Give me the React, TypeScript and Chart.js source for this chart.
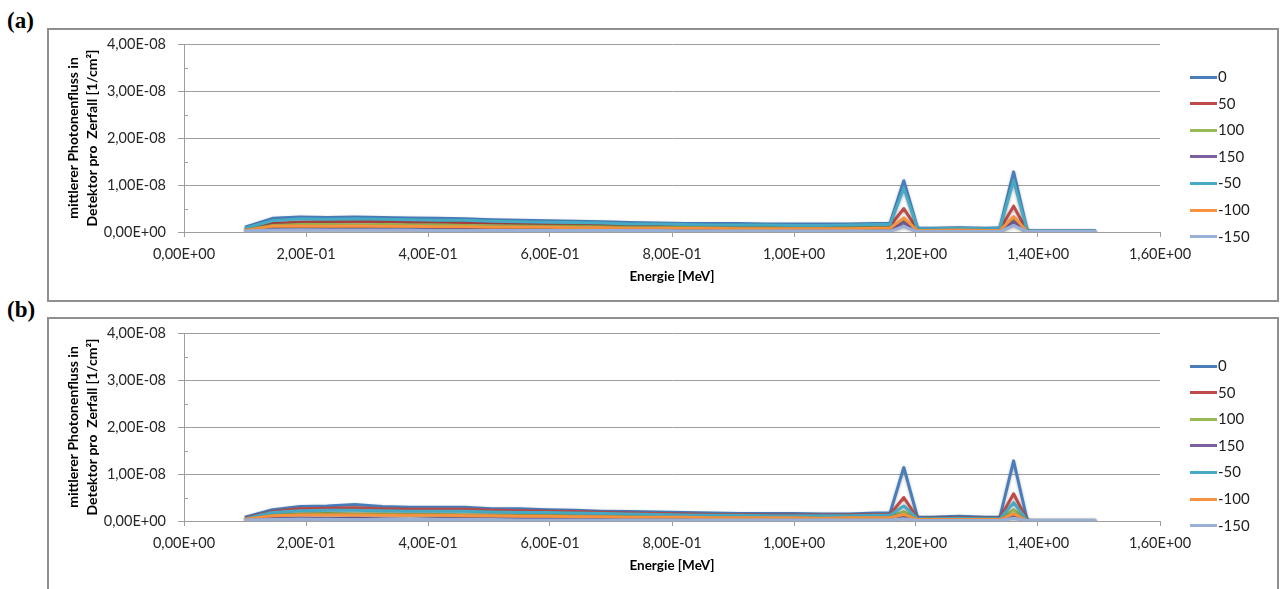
import React, { useEffect, useRef } from 'react';
import { Chart, registerables } from 'chart.js';

Chart.register(...registerables);

// ---------- data ----------
// Energy in MeV
const energy = [
  0.1, 0.145, 0.19, 0.235, 0.28, 0.325, 0.37, 0.415, 0.46, 0.505, 0.55, 0.595,
  0.64, 0.685, 0.73, 0.775, 0.82, 0.865, 0.91, 0.955, 1.0, 1.045, 1.09, 1.135,
  1.1575, 1.18, 1.2025, 1.225, 1.27, 1.315, 1.3375, 1.36, 1.3825, 1.405, 1.45, 1.495,
];

// values in units of 1E-09 (1/cm²)
const UNIT = 1e-9;

const seriesNames = ['0', '50', '100', '150', '-50', '-100', '-150'];
const seriesColors = ['#4A7EBB', '#BE4B48', '#98B954', '#7D60A0', '#46AAC5', '#F69240', '#98AFD6'];

// panel (a)
const a0 = [
  1.0, 2.9, 3.2, 3.1, 3.2, 3.1, 3.0, 2.9, 2.8, 2.6, 2.5, 2.4,
  2.3, 2.2, 2.0, 1.9, 1.8, 1.8, 1.8, 1.7, 1.7, 1.7, 1.7, 1.8,
  1.8, 10.9, 0.8, 0.8, 0.9, 0.8, 0.9, 12.8, 0.2, 0.2, 0.2, 0.2,
];
const a50 = [
  0.6, 1.8, 2.1, 2.2, 2.2, 2.3, 2.1, 2.1, 2.0, 1.9, 1.8, 1.7,
  1.6, 1.6, 1.4, 1.4, 1.3, 1.3, 1.2, 1.2, 1.2, 1.2, 1.2, 1.3,
  1.3, 5.0, 0.5, 0.5, 0.6, 0.5, 0.6, 5.5, 0.1, 0.1, 0.1, 0.1,
];
const a100 = [
  0.5, 1.4, 1.6, 1.6, 1.5, 1.6, 1.5, 1.5, 1.4, 1.3, 1.3, 1.2,
  1.2, 1.1, 1.0, 1.0, 1.0, 0.9, 0.9, 0.9, 0.9, 0.8, 0.9, 0.9,
  0.9, 2.6, 0.4, 0.4, 0.4, 0.4, 0.4, 2.9, 0.1, 0.1, 0.1, 0.1,
];
const a150 = [
  0.3, 0.8, 0.8, 0.7, 0.8, 0.7, 0.6, 0.7, 0.6, 0.6, 0.6, 0.5,
  0.5, 0.5, 0.5, 0.5, 0.4, 0.4, 0.4, 0.4, 0.4, 0.4, 0.4, 0.4,
  0.4, 2.0, 0.2, 0.2, 0.2, 0.2, 0.2, 2.2, 0.1, 0.1, 0.1, 0.1,
];
const aM50 = [
  0.8, 2.4, 2.8, 2.7, 2.8, 2.7, 2.6, 2.5, 2.5, 2.3, 2.2, 2.1,
  2.0, 1.9, 1.7, 1.7, 1.6, 1.5, 1.5, 1.5, 1.4, 1.4, 1.5, 1.6,
  1.6, 9.4, 0.7, 0.7, 0.8, 0.7, 0.8, 11.0, 0.2, 0.2, 0.2, 0.2,
];
const aM100 = [
  0.4, 1.2, 1.3, 1.2, 1.3, 1.2, 1.2, 1.1, 1.1, 1.0, 1.0, 1.0,
  0.9, 0.9, 0.8, 0.8, 0.8, 0.8, 0.7, 0.7, 0.7, 0.7, 0.7, 0.8,
  0.8, 3.0, 0.3, 0.3, 0.4, 0.3, 0.3, 3.3, 0.1, 0.1, 0.1, 0.1,
];
const aM150 = [
  0.2, 0.4, 0.5, 0.4, 0.4, 0.4, 0.4, 0.3, 0.3, 0.3, 0.3, 0.3,
  0.3, 0.3, 0.3, 0.3, 0.2, 0.2, 0.2, 0.2, 0.2, 0.2, 0.2, 0.2,
  0.2, 1.2, 0.1, 0.1, 0.1, 0.1, 0.1, 1.4, 0.1, 0.1, 0.1, 0.1,
];

// panel (b)
const b0 = [
  0.8, 2.4, 3.1, 3.2, 3.5, 3.1, 2.9, 2.9, 2.9, 2.6, 2.6, 2.4,
  2.3, 2.1, 2.0, 1.9, 1.8, 1.7, 1.6, 1.6, 1.6, 1.5, 1.5, 1.7,
  1.7, 11.4, 0.8, 0.8, 1.0, 0.8, 0.8, 12.8, 0.1, 0.1, 0.1, 0.1,
];
const b50 = [
  0.6, 2.0, 2.6, 2.7, 2.8, 2.6, 2.5, 2.5, 2.5, 2.3, 2.2, 2.1,
  2.0, 1.8, 1.7, 1.6, 1.5, 1.4, 1.4, 1.3, 1.3, 1.3, 1.3, 1.4,
  1.4, 5.0, 0.6, 0.6, 0.7, 0.6, 0.6, 5.8, 0.1, 0.1, 0.1, 0.1,
];
const b100 = [
  0.4, 1.3, 1.5, 1.6, 1.5, 1.5, 1.4, 1.4, 1.3, 1.3, 1.2, 1.2,
  1.1, 1.0, 1.0, 0.9, 0.9, 0.9, 0.8, 0.8, 0.8, 0.8, 0.8, 0.9,
  0.9, 2.0, 0.4, 0.4, 0.4, 0.4, 0.4, 2.4, 0.1, 0.1, 0.1, 0.1,
];
const b150 = [
  0.2, 0.5, 0.6, 0.5, 0.6, 0.4, 0.3, 0.5, 0.5, 0.4, 0.4, 0.4,
  0.4, 0.3, 0.3, 0.3, 0.3, 0.3, 0.3, 0.3, 0.3, 0.3, 0.3, 0.3,
  0.3, 0.8, 0.2, 0.2, 0.2, 0.2, 0.2, 1.0, 0.1, 0.1, 0.1, 0.1,
];
const bM50 = [
  0.5, 1.8, 2.2, 2.3, 2.3, 2.2, 2.1, 2.1, 2.1, 1.9, 1.8, 1.8,
  1.7, 1.6, 1.5, 1.4, 1.3, 1.2, 1.2, 1.1, 1.1, 1.1, 1.1, 1.2,
  1.2, 3.2, 0.5, 0.5, 0.6, 0.5, 0.5, 3.9, 0.1, 0.1, 0.1, 0.1,
];
const bM100 = [
  0.4, 1.1, 1.3, 1.3, 1.3, 1.2, 1.2, 1.2, 1.1, 1.1, 1.0, 1.0,
  0.9, 0.9, 0.8, 0.8, 0.8, 0.7, 0.7, 0.7, 0.7, 0.6, 0.7, 0.7,
  0.7, 1.4, 0.3, 0.3, 0.3, 0.3, 0.3, 1.5, 0.1, 0.1, 0.1, 0.1,
];
const bM150 = [
  0.2, 0.3, 0.4, 0.3, 0.3, 0.3, 0.3, 0.3, 0.3, 0.3, 0.2, 0.2,
  0.2, 0.2, 0.2, 0.2, 0.2, 0.2, 0.2, 0.2, 0.2, 0.2, 0.2, 0.2,
  0.2, 0.5, 0.1, 0.1, 0.1, 0.1, 0.1, 0.6, 0.1, 0.1, 0.1, 0.1,
];

const panelA = [a0, a50, a100, a150, aM50, aM100, aM150];
const panelB = [b0, b50, b100, b150, bM50, bM100, bM150];

const xTitle = 'Energie [MeV]';
const yTitle = ['mittlerer Photonenfluss in', 'Detektor pro  Zerfall [1/cm²]'];

// ---------- helpers ----------
function sci(v: number): string {
  if (Math.abs(v) < 1e-20) return '0,00E+00';
  const [m, e] = v.toExponential(2).split('e');
  const n = parseInt(e, 10);
  return m.replace('.', ',') + 'E' + (n < 0 ? '-' : '+') + String(Math.abs(n)).padStart(2, '0');
}

const FONT = 'Lato, "Open Sans", sans-serif';
const GRID = '#9e9e9e';

const minorTicks = {
  id: 'minorTicks',
  afterDraw(chart: any) {
    const y = chart.scales.y;
    const ctx = chart.ctx;
    const ticks = y.ticks;
    ctx.save();
    ctx.strokeStyle = GRID;
    ctx.lineWidth = 1;
    for (let i = 0; i < ticks.length - 1; i++) {
      const mid = (ticks[i].value + ticks[i + 1].value) / 2;
      const py = Math.round(y.getPixelForValue(mid)) + 0.5;
      ctx.beginPath();
      ctx.moveTo(chart.chartArea.left, py);
      ctx.lineTo(chart.chartArea.left + 4, py);
      ctx.stroke();
    }
    ctx.restore();
  },
};

const glow = {
  id: 'glow',
  beforeDatasetDraw(chart: any) {
    const ctx = chart.ctx;
    ctx.save();
    ctx.shadowColor = 'rgba(0,0,0,0.28)';
    ctx.shadowBlur = 3;
    ctx.shadowOffsetX = 0;
    ctx.shadowOffsetY = 1;
  },
  afterDatasetDraw(chart: any) {
    chart.ctx.restore();
  },
};

const CW = 1228;
const CH = 269;

function Panel({ series, top, label }: { series: number[][]; top: number; label: string }) {
  const ref = useRef<HTMLCanvasElement>(null);
  useEffect(() => {
    const n = series.length;
    const chart = new Chart(ref.current as HTMLCanvasElement, {
      type: 'line',
      data: {
        datasets: series.map((vals, i) => ({
          label: seriesNames[i],
          data: energy.map((x, k) => ({ x, y: vals[k] * UNIT })),
          borderColor: seriesColors[i],
          backgroundColor: seriesColors[i],
          borderWidth: 3,
          pointRadius: 0,
          tension: 0,
          borderJoinStyle: 'round' as const,
          order: n - 1 - i,
        })),
      },
      options: {
        responsive: false,
        animation: false,
        devicePixelRatio: 1,
        layout: { padding: { left: 8, top: 14, right: 117, bottom: 7 } },
        plugins: {
          legend: { display: false },
          tooltip: { enabled: false },
        },
        scales: {
          x: {
            type: 'linear',
            min: 0,
            max: 1.6,
            afterFit: (s: any) => {
              s.height = 60;
            },
            ticks: {
              stepSize: 0.2,
              autoSkip: false,
              maxRotation: 0,
              padding: 9,
              color: '#262626',
              font: { family: FONT, size: 14.5 },
              callback: (v: any) => sci(Number(v)),
            },
            grid: { drawOnChartArea: false, drawTicks: true, tickLength: 5, tickColor: GRID, color: GRID },
            border: { display: true, color: GRID, width: 1 },
            title: {
              display: true,
              text: xTitle,
              color: '#000',
              font: { family: FONT, size: 13.5, weight: 'bold' },
              padding: { top: 0, bottom: 7 },
            },
          },
          y: {
            type: 'linear',
            min: 0,
            max: 4e-8,
            afterFit: (s: any) => {
              s.width = 127;
              s.paddingTop = 0;
              s.paddingBottom = 0;
            },
            ticks: {
              stepSize: 1e-8,
              padding: 12,
              color: '#262626',
              font: { family: FONT, size: 14.5 },
              callback: (v: any) => sci(Number(v)),
            },
            grid: { color: GRID, tickColor: GRID, tickLength: 6, lineWidth: 1 },
            border: { display: true, color: GRID, width: 1 },
            title: {
              display: true,
              text: yTitle,
              color: '#000',
              font: { family: FONT, size: 14, weight: 'bold', lineHeight: '19px' },
              padding: { top: 7, bottom: 0 },
            },
          },
        },
      } as any,
      plugins: [minorTicks, glow],
    });
    return () => chart.destroy();
  }, [series]);

  return (
    <>
      <div
        style={{
          position: 'absolute',
          left: 7,
          top: top - 19,
          font: 'bold 23px "Liberation Serif", "Times New Roman", serif',
          lineHeight: 1,
          color: '#000',
        }}
      >
        {label}
      </div>
      <div
        style={{
          position: 'absolute',
          left: 47,
          top,
          width: 1232,
          height: 274,
          boxSizing: 'border-box',
          border: '2px solid #8f8f8f',
          background: '#fff',
        }}
      >
        <canvas ref={ref} width={CW} height={CH} style={{ display: 'block', width: CW, height: CH }} />
        {seriesNames.map((name, i) => {
          const cy = 47 + i * 26.6;
          return (
            <React.Fragment key={name}>
              <div
                style={{
                  position: 'absolute',
                  left: 1141,
                  top: cy - 1.5,
                  width: 27,
                  height: 3,
                  background: seriesColors[i],
                }}
              />
              <div
                style={{
                  position: 'absolute',
                  left: 1169,
                  top: cy - 10,
                  height: 20,
                  lineHeight: '20px',
                  font: `15px ${FONT}`,
                  color: '#1e1e1e',
                  whiteSpace: 'nowrap',
                }}
              >
                {name}
              </div>
            </React.Fragment>
          );
        })}
      </div>
    </>
  );
}

export default function App() {
  return (
    <div
      style={{
        position: 'absolute',
        left: 0,
        top: 0,
        width: 1280,
        height: 589,
        overflow: 'hidden',
        background: '#fff',
      }}
    >
      <Panel series={panelA} top={28} label="(a)" />
      <Panel series={panelB} top={317} label="(b)" />
    </div>
  );
}
